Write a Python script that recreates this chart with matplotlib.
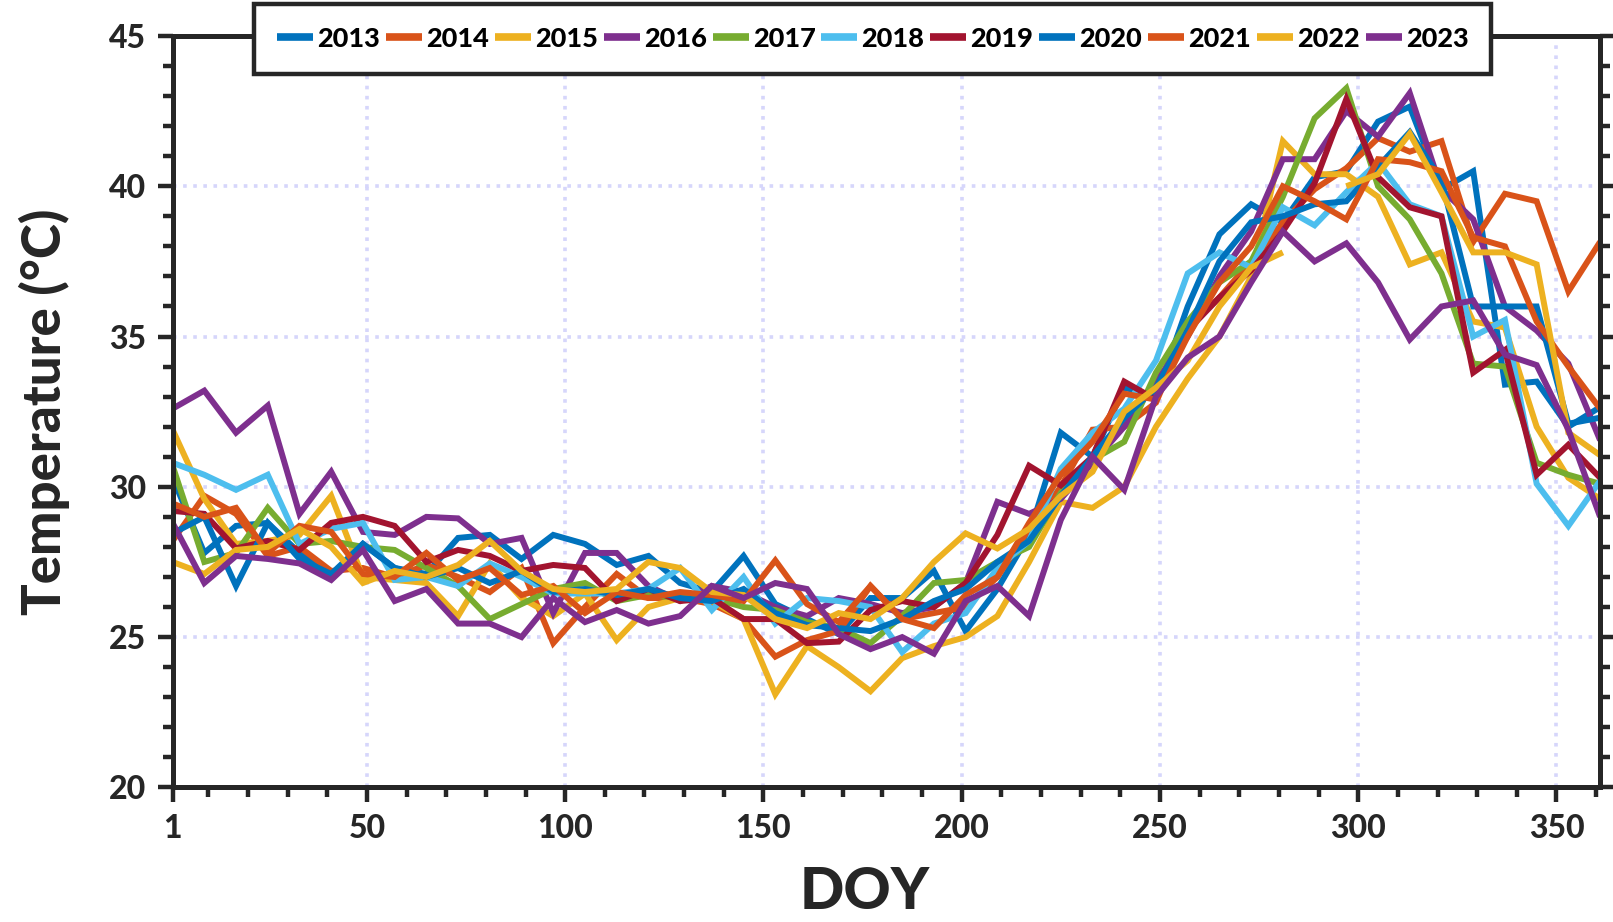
import numpy as np
import matplotlib.pyplot as plt
from matplotlib.ticker import MultipleLocator, FixedLocator

# ---- data: 8-day composites, DOY 1..361 ----
doy = list(range(1, 362, 8))
years = ["2013", "2014", "2015", "2016", "2017", "2018",
         "2019", "2020", "2021", "2022", "2023"]

t2013 = [30.3, 27.8, 28.7, 28.8, 27.8, 27.0, 28.1, 27.3, 27.1, 28.3, 28.4, 27.6,
         28.4, 28.1, 27.4, 27.7, 26.8, 26.5, 27.7, 26.1, 25.6, 25.1, 26.3, 26.3,
         27.2, 25.2, 26.6, 28.4, 31.8, 31.0, 33.3, 33.0, 36.0, 38.4, 39.4, 38.8,
         40.3, 40.5, 42.15, 42.65, 39.9, 40.5, 33.4, 33.5, 32.0, 32.65]
t2014 = [28.2, 29.7, 29.1, 27.7, 28.0, 27.2, 27.3, 27.0, 27.4, 27.0, 26.5, 27.3,
         24.8, 26.0, 27.1, 26.3, 26.3, 26.1, 25.6, 24.35, 24.9, 25.2, 26.7, 25.6,
         25.8, 26.0, 27.0, 28.6, 30.0, 31.9, 32.0, 32.8, 35.3, 36.3, 37.5, 38.8,
         39.9, 40.6, 41.6, 41.15, 41.5, 38.15, 39.75, 39.5, 36.5, 38.15]
t2015 = [31.9, 29.6, 28.1, 28.2, 28.4, 29.7, 27.0, 26.9, 26.8, 25.7, 27.45, 26.3,
         25.7, 26.45, 24.9, 26.0, 26.3, 26.2, 25.6, 23.1, 24.7, 24.0, 23.2, 24.3,
         24.7, 25.0, 25.7, 27.5, 29.5, 29.3, 30.0, 32.0, 33.6, 35.0, 37.0, 41.5,
         40.4, 40.4, 39.65, 37.4, 37.8, 35.5, 35.3, 32.0, 30.3, 29.6]
t2016 = [32.6, 33.2, 31.8, 32.7, 29.1, 30.5, 28.5, 28.4, 29.0, 28.95, 28.1, 28.3,
         25.8, 27.8, 27.8, 26.7, 26.2, 26.7, 26.5, 26.0, 25.7, 26.3, 26.1, 25.8,
         26.0, 26.8, 29.5, 29.1, 29.6, 30.8, 32.0, 33.5, 35.0, 37.0, 38.5, 40.9,
         40.9, 42.5, 41.65, 43.1, 39.9, 38.9, 36.0, 35.2, 34.1, 31.55]
t2017 = [30.7, 27.5, 27.8, 29.3, 28.1, 28.2, 28.0, 27.9, 27.3, 26.7, 25.6, 26.1,
         26.6, 26.8, 26.2, 26.4, 26.3, 26.3, 26.0, 25.9, 25.5, 25.3, 24.8, 25.7,
         26.8, 26.9, 27.5, 28.0, 29.8, 30.9, 31.5, 33.8, 35.5, 36.8, 37.5, 39.65,
         42.26, 43.26, 40.0, 38.9, 37.1, 34.1, 34.0, 30.8, 30.4, 30.1]
t2018 = [30.8, 30.4, 29.9, 30.4, 28.1, 28.6, 28.8, 26.9, 27.0, 26.7, 27.45, 27.0,
         26.45, 26.45, 26.45, 26.6, 27.3, 25.9, 27.0, 25.45, 26.3, 26.2, 26.0, 24.5,
         25.45, 25.8, 27.3, 28.2, 30.6, 31.8, 32.6, 34.2, 37.1, 37.8, 37.3, 39.3,
         38.7, 39.8, 40.8, 39.4, 39.0, 35.0, 35.55, 30.1, 28.7, 30.2]
t2019 = [29.2, 29.1, 27.95, 28.2, 27.9, 28.8, 29.0, 28.7, 27.5, 27.9, 27.7, 27.2,
         27.4, 27.3, 26.2, 26.6, 26.2, 26.3, 25.6, 25.6, 24.8, 24.85, 25.9, 26.2,
         26.0, 26.8, 28.4, 30.7, 30.05, 31.0, 33.5, 32.9, 35.2, 36.3, 37.2, 38.5,
         40.1, 42.9, 40.3, 39.3, 39.0, 33.8, 34.55, 30.4, 31.4, 30.3]
t2020 = [28.45, 29.0, 26.7, 28.8, 27.6, 27.1, 28.1, 27.3, 27.0, 27.3, 26.8, 27.2,
         26.5, 26.6, 26.4, 26.6, 26.3, 26.2, 26.6, 25.8, 25.4, 25.3, 25.2, 25.6,
         26.2, 26.6, 27.5, 28.2, 29.7, 31.0, 32.3, 33.3, 35.2, 37.5, 38.8, 39.0,
         39.4, 39.5, 40.65, 41.8, 40.2, 36.0, 36.0, 36.0, 32.1, 32.3]
t2021 = [29.45, 29.0, 29.3, 27.8, 28.7, 28.5, 27.1, 27.0, 27.8, 26.9, 27.3, 26.4,
         26.7, 25.8, 26.5, 26.3, 26.5, 26.4, 26.2, 27.55, 26.1, 25.5, 26.7, 25.6,
         25.3, 26.4, 27.0, 28.8, 30.4, 31.5, 33.1, 32.9, 35.0, 36.8, 38.0, 40.0,
         39.5, 38.9, 40.9, 40.8, 40.5, 38.3, 38.0, 35.5, 34.0, 32.6]
t2022 = [27.5, 27.1, 27.9, 28.0, 28.6, 28.0, 26.8, 27.2, 27.0, 27.4, 28.2, 27.2,
         26.6, 26.5, 26.6, 27.5, 27.3, 26.5, 26.4, 25.6, 25.3, 25.8, 25.6, 26.3,
         27.5, 28.45, 27.95, 28.6, 29.7, 30.5, 32.5, 33.3, 34.2, 36.0, 37.3, 37.8,
         np.nan, 40.0, 40.4, 41.75, 39.8, 37.8, 37.8, 37.4, 31.8, 31.05]
t2023 = [28.8, 26.8, 27.7, 27.6, 27.45, 26.9, 27.9, 26.2, 26.6, 25.45, 25.45, 25.0,
         26.3, 25.5, 25.9, 25.45, 25.7, 26.7, 26.3, 26.8, 26.6, 25.1, 24.6, 25.0,
         24.45, 26.2, 26.7, 25.7, 28.9, 31.0, 29.9, 33.0, 34.3, 35.0, 36.8, 38.5,
         37.5, 38.1, 36.8, 34.9, 36.0, 36.2, 34.4, 34.05, 31.9, 29.0]

series = [t2013, t2014, t2015, t2016, t2017, t2018,
          t2019, t2020, t2021, t2022, t2023]

# MATLAB default line colours, cycling
colors = ["#0072BD", "#D95319", "#EDB120", "#7E2F8E", "#77AC30", "#4DBEEE",
          "#A2142F", "#0072BD", "#D95319", "#EDB120", "#7E2F8E"]

plt.rcParams["font.family"] = ["Lato", "DejaVu Sans"]
plt.rcParams["font.weight"] = "black"
plt.rcParams["axes.labelweight"] = "black"
axis_col = "#262626"

fig = plt.figure(figsize=(16.13, 9.22), dpi=100)
ax = fig.add_axes([0.107, 0.146, 0.885, 0.815])

for yr, vals, c in zip(years, series, colors):
    ax.plot(doy, vals, color=c, linewidth=4.3, label=yr,
            solid_joinstyle="miter", solid_capstyle="butt")

ax.set_xlim(1, 361)
ax.set_ylim(20, 45)
ax.xaxis.set_major_locator(FixedLocator([1, 50, 100, 150, 200, 250, 300, 350]))
ax.xaxis.set_minor_locator(FixedLocator([d for d in range(10, 361, 10) if d % 50]))
ax.yaxis.set_major_locator(MultipleLocator(5))
ax.yaxis.set_minor_locator(MultipleLocator(1))

# grid only at interior majors
for gx in [50, 100, 150, 200, 250, 300, 350]:
    ax.axvline(gx, color="#d6d6fb", linewidth=2.6, linestyle=(0, (1, 1.8)), zorder=0)
for gy in [25, 30, 35, 40]:
    ax.axhline(gy, color="#d6d6fb", linewidth=2.6, linestyle=(0, (1, 1.8)), zorder=0)

for s in ax.spines.values():
    s.set_color(axis_col)
    s.set_linewidth(3.6)

ax.tick_params(which="both", direction="out", color=axis_col, width=3.2,
               left=True, right=True, bottom=True, top=False,
               labelright=False)
ax.tick_params(which="major", length=11, labelsize=23, labelcolor=axis_col, pad=8)
ax.tick_params(which="minor", length=7)
for lab in ax.get_xticklabels() + ax.get_yticklabels():
    lab.set_fontweight("black")

ax.set_xlabel("DOY", fontsize=42, color=axis_col, fontweight="black")
ax.set_ylabel("Temperature (°C)", fontsize=38, color=axis_col, fontweight="black")
ax.xaxis.set_label_coords(0.485, -0.105)
ax.yaxis.set_label_coords(-0.072, 0.5)

leg = ax.legend(ncol=11, loc="upper center", bbox_to_anchor=(0.541, 0.996),
                bbox_transform=fig.transFigure, fontsize=19.5, frameon=True,
                fancybox=False, handlelength=1.33, handletextpad=0.15,
                columnspacing=0.22, borderpad=0.85, borderaxespad=0,
                framealpha=1)
leg.get_frame().set_edgecolor(axis_col)
leg.get_frame().set_linewidth(3.2)
for h in leg.get_lines():
    h.set_linewidth(5.5)
for t in leg.get_texts():
    t.set_fontweight("black")

fig.savefig("out.png", dpi=100)
